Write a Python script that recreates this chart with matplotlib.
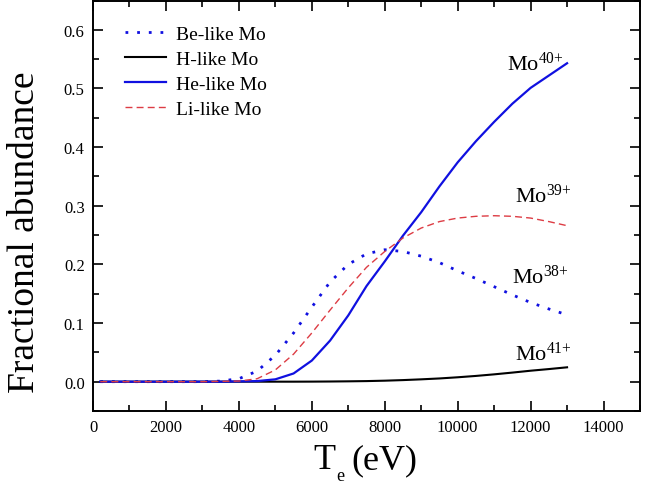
import matplotlib
matplotlib.use("Agg")
import matplotlib.pyplot as plt
from matplotlib.ticker import MultipleLocator, FormatStrFormatter

plt.rcParams['font.family'] = ['Liberation Serif', 'DejaVu Serif']
plt.rcParams['mathtext.fontset'] = 'custom'
plt.rcParams['mathtext.rm'] = 'Liberation Serif'
plt.rcParams['mathtext.it'] = 'Liberation Serif:italic'

Te = [200, 1000, 2000, 3000, 3500, 4000, 4500, 5000, 5500, 6000, 6500, 7000,
      7500, 8000, 8500, 9000, 9500, 10000, 10500, 11000, 11500, 12000, 12500, 13000]

be_like = [0, 0, 0, 0, 0.001, 0.005, 0.018, 0.045, 0.083, 0.127, 0.170, 0.200,
           0.218, 0.225, 0.222, 0.214, 0.203, 0.189, 0.176, 0.162, 0.148, 0.135, 0.124, 0.114]
h_like = [0, 0, 0, 0, 0, 0, 0, 0, 0, 0.0001, 0.0003, 0.0006,
          0.001, 0.0017, 0.0027, 0.004, 0.0055, 0.0075, 0.0098, 0.0125, 0.0155, 0.0187, 0.0215, 0.0245]
he_like = [0, 0, 0, 0, 0, 0.0005, 0.001, 0.004, 0.014, 0.036, 0.070, 0.113,
           0.163, 0.205, 0.249, 0.289, 0.333, 0.374, 0.41, 0.443, 0.474, 0.501, 0.522, 0.543]
li_like = [0, 0, 0, 0, 0.0005, 0.001, 0.005, 0.02, 0.047, 0.083, 0.122, 0.160,
           0.195, 0.222, 0.245, 0.262, 0.273, 0.279, 0.282, 0.283, 0.282, 0.279, 0.273, 0.266]

labels = ['Be-like Mo', 'H-like Mo', 'He-like Mo', 'Li-like Mo']
ion_labels = [r'Mo$^{\mathrm{40{+}}}$', r'Mo$^{\mathrm{39{+}}}$', r'Mo$^{\mathrm{38{+}}}$', r'Mo$^{\mathrm{41{+}}}$']
ion_pos = [(11350, 0.531), (11570, 0.307), (11490, 0.169), (11570, 0.0375)]

W, H = 657, 485
fig = plt.figure(figsize=(W / 100, H / 100), dpi=100)
ax = fig.add_axes([93 / W, 1 - 412 / H, (640 - 93) / W, (412 - 1.5) / H])

ax.plot(Te, be_like, color='#1010e0', lw=2.0, linestyle=(0, (1, 3.2)), label=labels[0])
ax.plot(Te, h_like, color='black', lw=1.5, label=labels[1])
ax.plot(Te, he_like, color='#1010e0', lw=1.6, label=labels[2])
ax.plot(Te, li_like, color='#dd3c44', lw=1.0, linestyle=(0, (5, 3)), label=labels[3])

for t, (x, y) in zip(ion_labels, ion_pos):
    ax.text(x, y, t, fontsize=16, ha='left', va='baseline')

ax.set_xlim(0, 15000)
ax.set_ylim(-0.05, 0.65)
ax.xaxis.set_major_locator(MultipleLocator(2000))
ax.xaxis.set_minor_locator(MultipleLocator(1000))
ax.yaxis.set_major_locator(MultipleLocator(0.1))
ax.yaxis.set_minor_locator(MultipleLocator(0.05))
ax.tick_params(which='both', direction='in', top=True, right=True, labelsize=12, pad=6)
ax.tick_params(which='major', length=7, width=1.2)
ax.tick_params(which='minor', length=4, width=1.2)
ax.yaxis.set_major_formatter(FormatStrFormatter('%.1f'))
for s in ax.spines.values():
    s.set_linewidth(1.4)

ax.set_ylabel('Fractional abundance', fontsize=27)
ax.yaxis.set_label_coords((42 - 93) / 547, 0.438)

# x label: T with a low subscript e, then (eV)
fig.text(313 / W, 1 - 469 / H, 'T', fontsize=26, ha='left', va='baseline')
fig.text(336 / W, 1 - 481 / H, 'e', fontsize=13, ha='left', va='baseline')
fig.text(351 / W, 1 - 469 / H, '(eV)', fontsize=26, ha='left', va='baseline')

leg = ax.legend(loc='upper left', frameon=False, fontsize=14, handlelength=2.1,
                handletextpad=0.5, labelspacing=0.38, borderaxespad=0.0,
                bbox_to_anchor=(0.045, 0.958))

fig.savefig('out.png', dpi=100)
